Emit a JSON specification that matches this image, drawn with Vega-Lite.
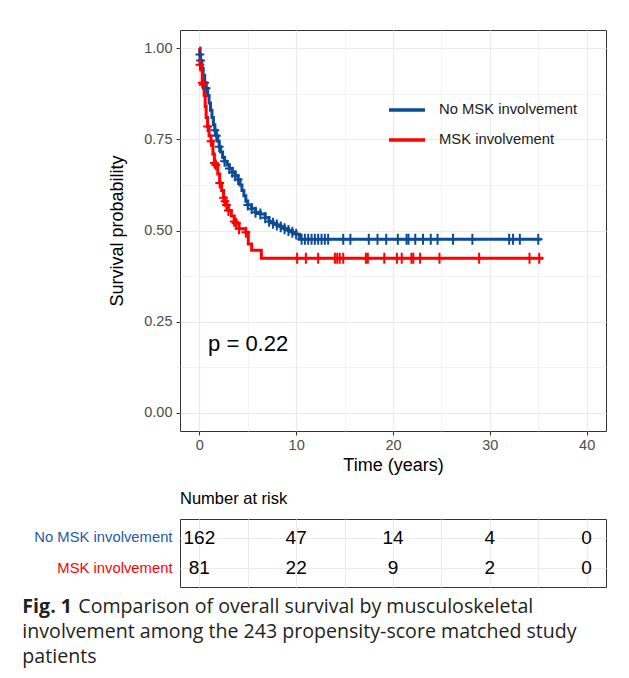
{
  "$schema": "https://vega.github.io/schema/vega-lite/v6.json",
  "background": "white",
  "padding": {"left": 22, "top": 29, "right": 5, "bottom": 5},
  "spacing": 15,
  "config": {
    "view": {"stroke": "#333333", "strokeWidth": 1},
    "font": "Liberation Sans",
    "axis": {
      "labelFont": "Liberation Sans",
      "titleFont": "Liberation Sans",
      "labelColor": "#4d4d4d",
      "labelFontSize": 14.5,
      "titleFontSize": 18,
      "titleFontWeight": "normal",
      "titleColor": "#000000",
      "tickColor": "#333333",
      "tickSize": 4,
      "domain": false,
      "gridColor": "#ebebeb",
      "labelOverlap": false,
      "labelFlush": false
    }
  },
  "title": {
    "text": "Fig. 1",
    "subtitle": [
      "\u200b\u00a0\u00a0\u00a0\u00a0\u00a0\u00a0\u00a0\u00a0\u00a0\u00a0\u00a0Comparison of overall survival by musculoskeletal",
      "involvement among the 243 propensity-score matched study",
      "patients"
    ],
    "orient": "bottom",
    "anchor": "start",
    "frame": "bounds",
    "font": "Open Sans",
    "fontSize": 19.6,
    "fontWeight": "bold",
    "color": "#231f20",
    "subtitleFont": "Open Sans",
    "subtitleFontSize": 19.6,
    "subtitleColor": "#231f20",
    "subtitleLineHeight": 25,
    "subtitlePadding": -19.6,
    "offset": 10,
    "dx": -11
  },
  "datasets": {
    "km": [
      {"g": "No MSK involvement", "t": 0, "s": 1, "c": 0},
      {"g": "No MSK involvement", "t": 0.05, "s": 0.983, "c": 1},
      {"g": "No MSK involvement", "t": 0.12, "s": 0.966, "c": 1},
      {"g": "No MSK involvement", "t": 0.25, "s": 0.945, "c": 0},
      {"g": "No MSK involvement", "t": 0.4, "s": 0.925, "c": 0},
      {"g": "No MSK involvement", "t": 0.55, "s": 0.905, "c": 1},
      {"g": "No MSK involvement", "t": 0.7, "s": 0.89, "c": 1},
      {"g": "No MSK involvement", "t": 0.85, "s": 0.87, "c": 0},
      {"g": "No MSK involvement", "t": 1.0, "s": 0.85, "c": 0},
      {"g": "No MSK involvement", "t": 1.15, "s": 0.83, "c": 0},
      {"g": "No MSK involvement", "t": 1.3, "s": 0.81, "c": 0},
      {"g": "No MSK involvement", "t": 1.45, "s": 0.79, "c": 0},
      {"g": "No MSK involvement", "t": 1.6, "s": 0.775, "c": 1},
      {"g": "No MSK involvement", "t": 1.75, "s": 0.76, "c": 1},
      {"g": "No MSK involvement", "t": 1.9, "s": 0.745, "c": 0},
      {"g": "No MSK involvement", "t": 2.05, "s": 0.73, "c": 1},
      {"g": "No MSK involvement", "t": 2.2, "s": 0.715, "c": 0},
      {"g": "No MSK involvement", "t": 2.4, "s": 0.7, "c": 0},
      {"g": "No MSK involvement", "t": 2.6, "s": 0.69, "c": 1},
      {"g": "No MSK involvement", "t": 2.85, "s": 0.68, "c": 0},
      {"g": "No MSK involvement", "t": 3.1, "s": 0.67, "c": 1},
      {"g": "No MSK involvement", "t": 3.4, "s": 0.66, "c": 1},
      {"g": "No MSK involvement", "t": 3.7, "s": 0.65, "c": 1},
      {"g": "No MSK involvement", "t": 4.0, "s": 0.64, "c": 1},
      {"g": "No MSK involvement", "t": 4.2, "s": 0.625, "c": 0},
      {"g": "No MSK involvement", "t": 4.4, "s": 0.61, "c": 0},
      {"g": "No MSK involvement", "t": 4.6, "s": 0.595, "c": 0},
      {"g": "No MSK involvement", "t": 4.8, "s": 0.58, "c": 0},
      {"g": "No MSK involvement", "t": 5.0, "s": 0.57, "c": 1},
      {"g": "No MSK involvement", "t": 5.4, "s": 0.56, "c": 1},
      {"g": "No MSK involvement", "t": 5.8, "s": 0.55, "c": 1},
      {"g": "No MSK involvement", "t": 6.3, "s": 0.545, "c": 1},
      {"g": "No MSK involvement", "t": 6.8, "s": 0.535, "c": 1},
      {"g": "No MSK involvement", "t": 7.2, "s": 0.525, "c": 1},
      {"g": "No MSK involvement", "t": 7.6, "s": 0.52, "c": 1},
      {"g": "No MSK involvement", "t": 8.0, "s": 0.515, "c": 1},
      {"g": "No MSK involvement", "t": 8.4, "s": 0.51, "c": 1},
      {"g": "No MSK involvement", "t": 8.8, "s": 0.505, "c": 1},
      {"g": "No MSK involvement", "t": 9.2, "s": 0.5, "c": 1},
      {"g": "No MSK involvement", "t": 9.6, "s": 0.495, "c": 1},
      {"g": "No MSK involvement", "t": 10.0, "s": 0.49, "c": 1},
      {"g": "No MSK involvement", "t": 10.35, "s": 0.476, "c": 0},
      {"g": "No MSK involvement", "t": 10.56, "s": 0.476, "c": 1},
      {"g": "No MSK involvement", "t": 10.9, "s": 0.476, "c": 1},
      {"g": "No MSK involvement", "t": 11.24, "s": 0.476, "c": 1},
      {"g": "No MSK involvement", "t": 11.59, "s": 0.476, "c": 1},
      {"g": "No MSK involvement", "t": 11.93, "s": 0.476, "c": 1},
      {"g": "No MSK involvement", "t": 12.27, "s": 0.476, "c": 1},
      {"g": "No MSK involvement", "t": 12.62, "s": 0.476, "c": 1},
      {"g": "No MSK involvement", "t": 12.96, "s": 0.476, "c": 1},
      {"g": "No MSK involvement", "t": 13.3, "s": 0.476, "c": 1},
      {"g": "No MSK involvement", "t": 14.86, "s": 0.476, "c": 1},
      {"g": "No MSK involvement", "t": 15.6, "s": 0.476, "c": 1},
      {"g": "No MSK involvement", "t": 17.5, "s": 0.476, "c": 1},
      {"g": "No MSK involvement", "t": 18.4, "s": 0.476, "c": 1},
      {"g": "No MSK involvement", "t": 19.3, "s": 0.476, "c": 1},
      {"g": "No MSK involvement", "t": 20.5, "s": 0.476, "c": 1},
      {"g": "No MSK involvement", "t": 21.4, "s": 0.476, "c": 1},
      {"g": "No MSK involvement", "t": 21.6, "s": 0.476, "c": 1},
      {"g": "No MSK involvement", "t": 22.3, "s": 0.476, "c": 1},
      {"g": "No MSK involvement", "t": 23.1, "s": 0.476, "c": 1},
      {"g": "No MSK involvement", "t": 23.9, "s": 0.476, "c": 1},
      {"g": "No MSK involvement", "t": 24.6, "s": 0.476, "c": 1},
      {"g": "No MSK involvement", "t": 26.2, "s": 0.476, "c": 1},
      {"g": "No MSK involvement", "t": 28.2, "s": 0.476, "c": 1},
      {"g": "No MSK involvement", "t": 32.0, "s": 0.476, "c": 1},
      {"g": "No MSK involvement", "t": 32.4, "s": 0.476, "c": 1},
      {"g": "No MSK involvement", "t": 33.1, "s": 0.476, "c": 1},
      {"g": "No MSK involvement", "t": 35.0, "s": 0.476, "c": 1},
      {"g": "No MSK involvement", "t": 35.3, "s": 0.476, "c": 0},
      {"g": "MSK involvement", "t": 0, "s": 1, "c": 0},
      {"g": "MSK involvement", "t": 0.06, "s": 0.955, "c": 1},
      {"g": "MSK involvement", "t": 0.15, "s": 0.94, "c": 0},
      {"g": "MSK involvement", "t": 0.3, "s": 0.905, "c": 1},
      {"g": "MSK involvement", "t": 0.4, "s": 0.9, "c": 1},
      {"g": "MSK involvement", "t": 0.5, "s": 0.87, "c": 0},
      {"g": "MSK involvement", "t": 0.6, "s": 0.84, "c": 0},
      {"g": "MSK involvement", "t": 0.7, "s": 0.81, "c": 0},
      {"g": "MSK involvement", "t": 0.85, "s": 0.785, "c": 1},
      {"g": "MSK involvement", "t": 1.0, "s": 0.76, "c": 0},
      {"g": "MSK involvement", "t": 1.2, "s": 0.745, "c": 1},
      {"g": "MSK involvement", "t": 1.4, "s": 0.71, "c": 0},
      {"g": "MSK involvement", "t": 1.55, "s": 0.685, "c": 1},
      {"g": "MSK involvement", "t": 1.7, "s": 0.68, "c": 1},
      {"g": "MSK involvement", "t": 1.9, "s": 0.655, "c": 0},
      {"g": "MSK involvement", "t": 2.1, "s": 0.63, "c": 1},
      {"g": "MSK involvement", "t": 2.3, "s": 0.61, "c": 0},
      {"g": "MSK involvement", "t": 2.5, "s": 0.59, "c": 1},
      {"g": "MSK involvement", "t": 2.65, "s": 0.58, "c": 1},
      {"g": "MSK involvement", "t": 2.8, "s": 0.57, "c": 1},
      {"g": "MSK involvement", "t": 3.0, "s": 0.555, "c": 1},
      {"g": "MSK involvement", "t": 3.3, "s": 0.54, "c": 0},
      {"g": "MSK involvement", "t": 3.6, "s": 0.525, "c": 1},
      {"g": "MSK involvement", "t": 3.8, "s": 0.52, "c": 1},
      {"g": "MSK involvement", "t": 4.1, "s": 0.505, "c": 1},
      {"g": "MSK involvement", "t": 4.8, "s": 0.495, "c": 1},
      {"g": "MSK involvement", "t": 5.05, "s": 0.463, "c": 0},
      {"g": "MSK involvement", "t": 5.4, "s": 0.446, "c": 0},
      {"g": "MSK involvement", "t": 6.4, "s": 0.424, "c": 0},
      {"g": "MSK involvement", "t": 10.1, "s": 0.424, "c": 1},
      {"g": "MSK involvement", "t": 11.0, "s": 0.424, "c": 1},
      {"g": "MSK involvement", "t": 12.27, "s": 0.424, "c": 1},
      {"g": "MSK involvement", "t": 14.0, "s": 0.424, "c": 1},
      {"g": "MSK involvement", "t": 14.24, "s": 0.424, "c": 1},
      {"g": "MSK involvement", "t": 14.5, "s": 0.424, "c": 1},
      {"g": "MSK involvement", "t": 14.86, "s": 0.424, "c": 1},
      {"g": "MSK involvement", "t": 17.2, "s": 0.424, "c": 1},
      {"g": "MSK involvement", "t": 17.4, "s": 0.424, "c": 1},
      {"g": "MSK involvement", "t": 19.1, "s": 0.424, "c": 1},
      {"g": "MSK involvement", "t": 20.4, "s": 0.424, "c": 1},
      {"g": "MSK involvement", "t": 20.9, "s": 0.424, "c": 1},
      {"g": "MSK involvement", "t": 21.9, "s": 0.424, "c": 1},
      {"g": "MSK involvement", "t": 22.1, "s": 0.424, "c": 1},
      {"g": "MSK involvement", "t": 22.8, "s": 0.424, "c": 1},
      {"g": "MSK involvement", "t": 24.8, "s": 0.424, "c": 1},
      {"g": "MSK involvement", "t": 28.9, "s": 0.424, "c": 1},
      {"g": "MSK involvement", "t": 34.1, "s": 0.424, "c": 1},
      {"g": "MSK involvement", "t": 35.1, "s": 0.424, "c": 1},
      {"g": "MSK involvement", "t": 35.5, "s": 0.424, "c": 0}
    ],
    "risk": [
      {"g": "No MSK involvement", "t": 0, "n": 162},
      {"g": "No MSK involvement", "t": 10, "n": 47},
      {"g": "No MSK involvement", "t": 20, "n": 14},
      {"g": "No MSK involvement", "t": 30, "n": 4},
      {"g": "No MSK involvement", "t": 40, "n": 0},
      {"g": "MSK involvement", "t": 0, "n": 81},
      {"g": "MSK involvement", "t": 10, "n": 22},
      {"g": "MSK involvement", "t": 20, "n": 9},
      {"g": "MSK involvement", "t": 30, "n": 2},
      {"g": "MSK involvement", "t": 40, "n": 0}
    ],
    "pval": [{"t": 0.9, "s": 0.19, "label": "p = 0.22"}]
  },
  "vconcat": [
    {
      "width": 426,
      "height": 401,
      "layer": [
        {
          "data": {"name": "km"},
          "mark": {"type": "line", "interpolate": "step-after", "strokeWidth": 3, "clip": true},
          "encoding": {
            "x": {
              "field": "t", "type": "quantitative",
              "scale": {"domain": [-2, 42], "nice": false, "zero": false},
              "axis": {
                "values": [0, 5, 10, 15, 20, 25, 30, 35, 40],
                "labelExpr": "datum.value % 10 == 0 ? datum.label : ''",
                "tickOpacity": {"condition": {"test": "datum.value % 10 != 0", "value": 0}, "value": 1},
                "gridWidth": {"condition": {"test": "datum.value % 10 != 0", "value": 0.6}, "value": 1.2},
                "title": "Time (years)",
                "labelPadding": 3,
                "titlePadding": 5
              }
            },
            "y": {
              "field": "s", "type": "quantitative",
              "scale": {"domain": [-0.05, 1.05], "nice": false, "zero": false},
              "axis": {
                "values": [0, 0.125, 0.25, 0.375, 0.5, 0.625, 0.75, 0.875, 1],
                "labelExpr": "(datum.value * 4) % 1 == 0 ? format(datum.value, '.2f') : ''",
                "tickOpacity": {"condition": {"test": "(datum.value * 4) % 1 != 0", "value": 0}, "value": 1},
                "gridWidth": {"condition": {"test": "(datum.value * 4) % 1 != 0", "value": 0.6}, "value": 1.2},
                "title": "Survival probability",
                "labelPadding": 4,
                "titlePadding": 17
              }
            },
            "color": {
              "field": "g", "type": "nominal",
              "scale": {"domain": ["No MSK involvement", "MSK involvement"], "range": ["#0c4c97", "#ff0000"]},
              "legend": {
                "orient": "none", "legendX": 207, "legendY": 60,
                "title": null, "padding": 0,
                "symbolType": "stroke", "symbolStrokeWidth": 3.5, "symbolSize": 1296,
                "labelFontSize": 14.8, "labelFont": "Liberation Sans", "labelColor": "#1a1a1a",
                "labelOffset": 12, "rowPadding": 3
              }
            }
          }
        },
        {
          "data": {"name": "km"},
          "transform": [{"filter": "datum.c == 1"}],
          "mark": {"type": "point", "shape": "M-0.8,0H0.8M0,-1V1", "size": 120, "strokeWidth": 2, "filled": false, "opacity": 1, "clip": true},
          "encoding": {
            "x": {"field": "t", "type": "quantitative"},
            "y": {"field": "s", "type": "quantitative"},
            "stroke": {
              "field": "g", "type": "nominal",
              "scale": {"domain": ["No MSK involvement", "MSK involvement"], "range": ["#0c4c97", "#ff0000"]},
              "legend": null
            }
          }
        },
        {
          "data": {"name": "pval"},
          "mark": {"type": "text", "align": "left", "baseline": "middle", "fontSize": 22, "font": "Liberation Sans", "color": "#000000"},
          "encoding": {
            "x": {"field": "t", "type": "quantitative"},
            "y": {"field": "s", "type": "quantitative"},
            "text": {"field": "label"}
          }
        }
      ]
    },
    {
      "width": 426,
      "height": 68,
      "title": {"text": "Number at risk", "anchor": "start", "frame": "group", "fontSize": 16.5, "fontWeight": "normal", "font": "Liberation Sans", "color": "#000000", "offset": 12},
      "data": {"name": "risk"},
      "mark": {"type": "text", "fontSize": 19, "font": "Liberation Sans", "color": "#000000", "baseline": "middle"},
      "encoding": {
        "x": {
          "field": "t", "type": "quantitative",
          "scale": {"domain": [-2, 42], "nice": false, "zero": false},
          "axis": {"values": [0, 5, 10, 15, 20, 25, 30, 35, 40], "grid": true, "labels": false, "ticks": false, "title": null, "gridWidth": 1}
        },
        "y": {
          "field": "g", "type": "nominal",
          "scale": {"type": "point", "padding": 0.6, "domain": ["No MSK involvement", "MSK involvement"]},
          "axis": {
            "title": null, "ticks": false, "grid": true, "labelPadding": 8, "labelFontSize": 14.8,
            "labelColor": {"condition": {"test": "datum.value == 'MSK involvement'", "value": "#ff0000"}, "value": "#1f5aa6"}
          }
        },
        "text": {"field": "n", "type": "quantitative"}
      }
    }
  ]
}
